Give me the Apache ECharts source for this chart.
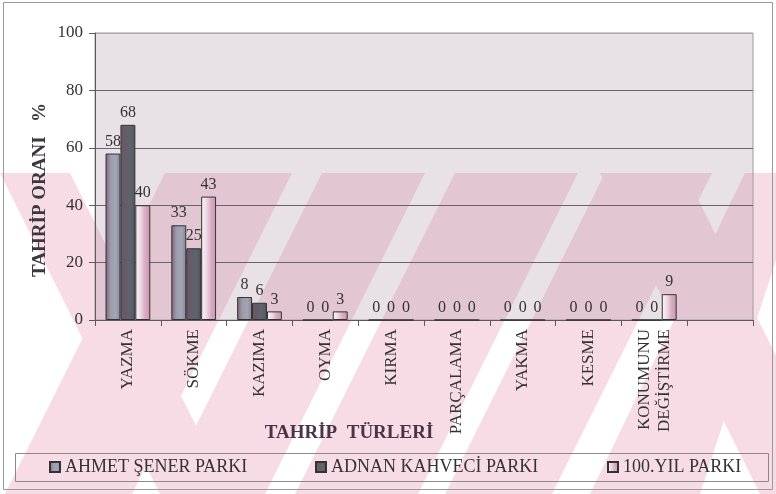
<!DOCTYPE html>
<html>
<head>
<meta charset="utf-8">
<script src="https://cdn.jsdelivr.net/npm/echarts@6/dist/echarts.min.js"></script>
<style>html,body{margin:0;padding:0;background:#fff}#c{width:776px;height:494px}</style>
</head>
<body>
<div id="c"></div>
<script>
const categories = ['YAZMA','SÖKME','KAZIMA','OYMA','KIRMA','PARÇALAMA','YAKMA','KESME','KONUMUNU\nDEĞİŞTİRME',''];
const seriesNames = ['AHMET ŞENER PARKI','ADNAN KAHVECİ PARKI','100.YIL PARKI'];
const ahmetSener = [58,33,8,0,0,0,0,0,0,null];
const adnanKahveci = [68,25,6,0,0,0,0,0,0,null];
const yuzuncuYil = [40,43,3,3,0,0,0,0,9,null];
const yTicks = {min:0,max:100,interval:20};

const FONT = "'Liberation Serif','Times New Roman',serif";
function grad(stops){
  return new echarts.graphic.LinearGradient(0,0,1,0,stops.map((c,i)=>({offset:i/(stops.length-1),color:c})));
}
const colors = [
  grad(['#7e6373','#9d9aab','#a0a6b6','#8a8696']),
  grad(['#6c5664','#655c68','#5d646e','#56525c']),
  grad(['#fbf4f8','#eedbe6','#d9aac2','#c898b2'])
];

// decorative scan watermark (diagonal pink bands), opaque, under a translucent plot background
const wmPolys = [
  [[0,173],[70,173],[230,494],[160,494]],
  [[600,173],[685,173],[845,494],[760,494]],
  [[165,173],[292,173],[132,494],[5,494]],
  [[322,173],[425,173],[265,494],[162,494]],
  [[455,173],[578,173],[418,494],[295,494]],
  [[605,173],[712,173],[552,494],[445,494]],
  [[745,173],[776,173],[776,260],[700,494],[590,494]]
];
const wm = wmPolys.map(p=>({type:'polygon',silent:true,z:-10,shape:{points:p},style:{fill:'#f7dce5'}}));

const chart = echarts.init(document.getElementById('c'));
chart.setOption({
  backgroundColor:'#ffffff',
  animation:false,
  textStyle:{fontFamily:FONT},
  grid:{left:95,right:23,top:33,bottom:174,show:true,borderColor:'#a09aa0',borderWidth:1,
    backgroundColor:'rgba(163,135,155,0.25)'},
  legend:seriesNames.map((n,i)=>({
    data:[n],left:[49,315,607][i],top:458,padding:0,itemWidth:10,itemHeight:10,icon:'rect',
    textStyle:{fontFamily:FONT,fontSize:18,color:'#333'}
  })),
  xAxis:{
    type:'category',data:categories,boundaryGap:true,
    axisLine:{lineStyle:{color:'#5a5a5a',width:1}},
    axisTick:{show:true,interval:0,length:6,lineStyle:{color:'#5a5a5a'}},
    axisLabel:{interval:0,rotate:90,margin:9,fontSize:17,lineHeight:20,color:'#333',fontFamily:FONT},
    splitLine:{show:false}
  },
  yAxis:{
    type:'value',min:yTicks.min,max:yTicks.max,interval:yTicks.interval,
    axisLine:{show:true,lineStyle:{color:'#5a5a5a'}},
    axisTick:{show:true,length:6,lineStyle:{color:'#5a5a5a'}},
    axisLabel:{fontSize:17,color:'#333',margin:12,fontFamily:FONT},
    splitLine:{show:true,lineStyle:{color:['#6b6270','#6b6270','#6b6270','#6b6270','#6b6270','#b0a8b0'],width:1}}
  },
  series:[ahmetSener,adnanKahveci,yuzuncuYil].map((d,i)=>({
    name:seriesNames[i],type:'bar',data:d,barGap:'0%',barCategoryGap:'32%',
    itemStyle:{color:colors[i],borderColor:'#333',borderWidth:1},
    label:{show:true,position:'top',distance:4,fontFamily:FONT,fontSize:16,color:'#333'}
  })),
  graphic:[
    ...wm,
    {type:'rect',silent:true,z:5,shape:{x:3.5,y:2.5,width:769,height:487},style:{fill:null,stroke:'#9a9a9a',lineWidth:1}},
    {type:'rect',silent:true,z:5,shape:{x:15.5,y:453.5,width:753,height:28},style:{fill:null,stroke:'#8a8a8a',lineWidth:1}},
    {type:'text',silent:true,z:5,x:349,y:433,style:{text:'TAHRİP  TÜRLERİ',font:"bold 19px 'Liberation Serif','Times New Roman',serif",fill:'#4a3448',align:'center',verticalAlign:'middle'}},
    {type:'text',silent:true,z:5,x:40,y:190,rotation:Math.PI/2,style:{text:'TAHRİP ORANI   %',font:"bold 19px 'Liberation Serif','Times New Roman',serif",fill:'#3c3640',align:'center',verticalAlign:'middle'}}
  ]
});
</script>
</body>
</html>
